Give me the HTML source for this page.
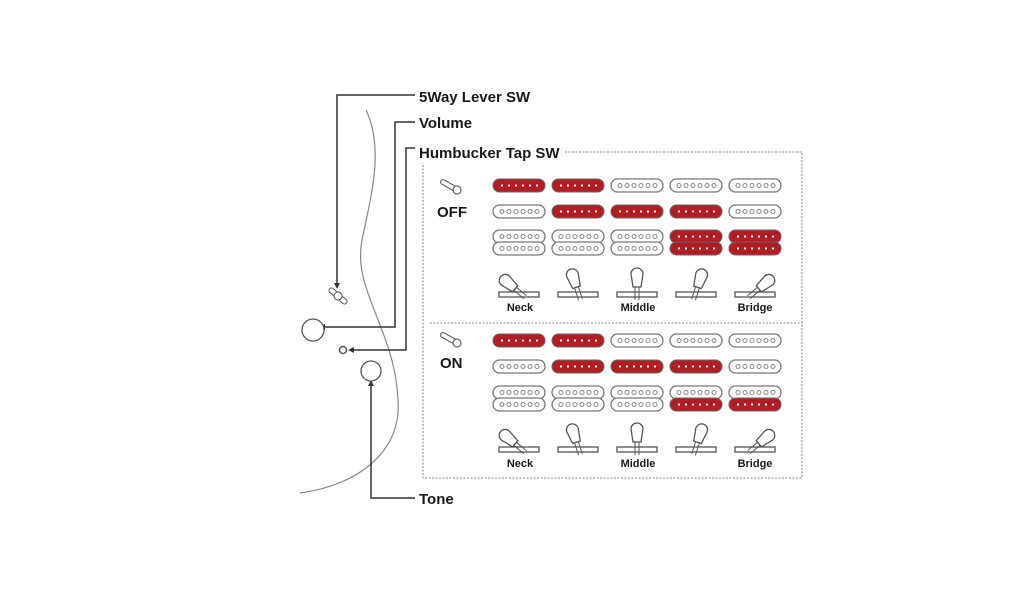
<!DOCTYPE html>
<html><head><meta charset="utf-8"><style>
body{margin:0;background:#fff;}
svg{display:block;}
text{font-family:"Liberation Sans",sans-serif;font-weight:bold;fill:#1a1a1a;}
</style></head><body>
<svg width="1024" height="600" viewBox="0 0 1024 600" xmlns="http://www.w3.org/2000/svg">
<defs>
<g id="sw"><rect x="0" y="0" width="52" height="13" rx="6.5" fill="#fff" stroke="#777" stroke-width="1.3"/>
<g fill="#fff" stroke="#888" stroke-width="1"><circle cx="9" cy="6.5" r="2"/><circle cx="16" cy="6.5" r="2"/><circle cx="23" cy="6.5" r="2"/><circle cx="30" cy="6.5" r="2"/><circle cx="37" cy="6.5" r="2"/><circle cx="44" cy="6.5" r="2"/></g></g>
<g id="sr"><rect x="0" y="0" width="52" height="13" rx="6.5" fill="#b01e24" stroke="#666" stroke-width="1"/>
<g fill="#fff"><circle cx="9" cy="6.5" r="1.1"/><circle cx="16" cy="6.5" r="1.1"/><circle cx="23" cy="6.5" r="1.1"/><circle cx="30" cy="6.5" r="1.1"/><circle cx="37" cy="6.5" r="1.1"/><circle cx="44" cy="6.5" r="1.1"/></g></g>
<g id="lev"><path d="M-4,-5 L-6,-18 A6,6 0 0 1 6,-18 L4,-5 Z" fill="#fff" stroke="#555" stroke-width="1.3"/><line x1="-2" y1="-5" x2="-2" y2="8" stroke="#555"/><line x1="2" y1="-5" x2="2" y2="8" stroke="#555"/></g>
<g id="base"><rect x="-20" y="0" width="40" height="5" fill="#fff" stroke="#555" stroke-width="1.3"/></g>
<g id="tog"><path d="M-8,-6 L6,2" stroke="#666" stroke-width="6" stroke-linecap="round"/><path d="M-8,-6 L6,2" stroke="#fff" stroke-width="3.6" stroke-linecap="round"/><circle cx="6" cy="2" r="4" fill="#fff" stroke="#666" stroke-width="1.2"/></g>
</defs>

<path d="M366,110 C385,150 370,200 362,240 C352,290 395,330 398,400 C402,450 360,485 300,493" fill="none" stroke="#888" stroke-width="1.2"/>

<g fill="none" stroke="#333" stroke-width="1.5">
<path d="M415,95 H337 V284"/>
<path d="M415,122 H395 V327 H322"/>
<path d="M415,148 H406 V350 H352"/>
<path d="M415,498 H371 V385"/>
</g>
<g fill="#333">
<path d="M334,283 L340,283 L337,289Z"/>
<path d="M325,324 L325,330 L319,327Z"/>
<path d="M354,347 L354,353 L348,350Z"/>
<path d="M368,386 L374,386 L371,380Z"/>
</g>
<g transform="translate(338,296) rotate(40)"><rect x="-11" y="-2.5" width="22" height="5" rx="2.5" fill="#fff" stroke="#555"/><circle r="4" fill="#fff" stroke="#555"/></g>
<circle cx="313" cy="330" r="11" fill="#fff" stroke="#555" stroke-width="1.3"/>
<circle cx="343" cy="350" r="3.5" fill="#fff" stroke="#555" stroke-width="1.5"/>
<circle cx="371" cy="371" r="10" fill="#fff" stroke="#555" stroke-width="1.3"/>

<text x="419" y="102" font-size="15">5Way Lever SW</text>
<text x="419" y="128" font-size="15">Volume</text>
<text x="419" y="158" font-size="15">Humbucker Tap SW</text>
<text x="419" y="504" font-size="15">Tone</text>

<g fill="none" stroke="#888" stroke-width="1" stroke-dasharray="2,1.5">
<path d="M565,152 H802 V478 H423 V163"/>
<path d="M430,323 H802"/>
</g>

<use href="#tog" x="451" y="188"/>
<text x="437" y="217" font-size="15">OFF</text>
<use href="#sr" x="493" y="179"/><use href="#sr" x="552" y="179"/><use href="#sw" x="611" y="179"/><use href="#sw" x="670" y="179"/><use href="#sw" x="729" y="179"/>
<use href="#sw" x="493" y="205"/><use href="#sr" x="552" y="205"/><use href="#sr" x="611" y="205"/><use href="#sr" x="670" y="205"/><use href="#sw" x="729" y="205"/>
<use href="#sw" x="493" y="230"/><use href="#sw" x="552" y="230"/><use href="#sw" x="611" y="230"/><use href="#sr" x="670" y="230"/><use href="#sr" x="729" y="230"/>
<use href="#sw" x="493" y="242"/><use href="#sw" x="552" y="242"/><use href="#sw" x="611" y="242"/><use href="#sr" x="670" y="242"/><use href="#sr" x="729" y="242"/>

<g transform="translate(519,292)"><use href="#base"/><g transform="rotate(-50)"><use href="#lev"/></g></g>
<g transform="translate(578,292)"><use href="#base"/><g transform="rotate(-18)"><use href="#lev"/></g></g>
<g transform="translate(637,292)"><use href="#base"/><use href="#lev"/></g>
<g transform="translate(696,292)"><use href="#base"/><g transform="rotate(18)"><use href="#lev"/></g></g>
<g transform="translate(755,292)"><use href="#base"/><g transform="rotate(50)"><use href="#lev"/></g></g>
<text x="520" y="311" font-size="11" text-anchor="middle">Neck</text>
<text x="638" y="311" font-size="11" text-anchor="middle">Middle</text>
<text x="755" y="311" font-size="11" text-anchor="middle">Bridge</text>

<use href="#tog" x="451" y="341"/>
<text x="440" y="368" font-size="15">ON</text>
<use href="#sr" x="493" y="334"/><use href="#sr" x="552" y="334"/><use href="#sw" x="611" y="334"/><use href="#sw" x="670" y="334"/><use href="#sw" x="729" y="334"/>
<use href="#sw" x="493" y="360"/><use href="#sr" x="552" y="360"/><use href="#sr" x="611" y="360"/><use href="#sr" x="670" y="360"/><use href="#sw" x="729" y="360"/>
<use href="#sw" x="493" y="386"/><use href="#sw" x="552" y="386"/><use href="#sw" x="611" y="386"/><use href="#sw" x="670" y="386"/><use href="#sw" x="729" y="386"/>
<use href="#sw" x="493" y="398"/><use href="#sw" x="552" y="398"/><use href="#sw" x="611" y="398"/><use href="#sr" x="670" y="398"/><use href="#sr" x="729" y="398"/>

<g transform="translate(519,447)"><use href="#base"/><g transform="rotate(-50)"><use href="#lev"/></g></g>
<g transform="translate(578,447)"><use href="#base"/><g transform="rotate(-18)"><use href="#lev"/></g></g>
<g transform="translate(637,447)"><use href="#base"/><use href="#lev"/></g>
<g transform="translate(696,447)"><use href="#base"/><g transform="rotate(18)"><use href="#lev"/></g></g>
<g transform="translate(755,447)"><use href="#base"/><g transform="rotate(50)"><use href="#lev"/></g></g>
<text x="520" y="467" font-size="11" text-anchor="middle">Neck</text>
<text x="638" y="467" font-size="11" text-anchor="middle">Middle</text>
<text x="755" y="467" font-size="11" text-anchor="middle">Bridge</text>
</svg>
</body></html>
